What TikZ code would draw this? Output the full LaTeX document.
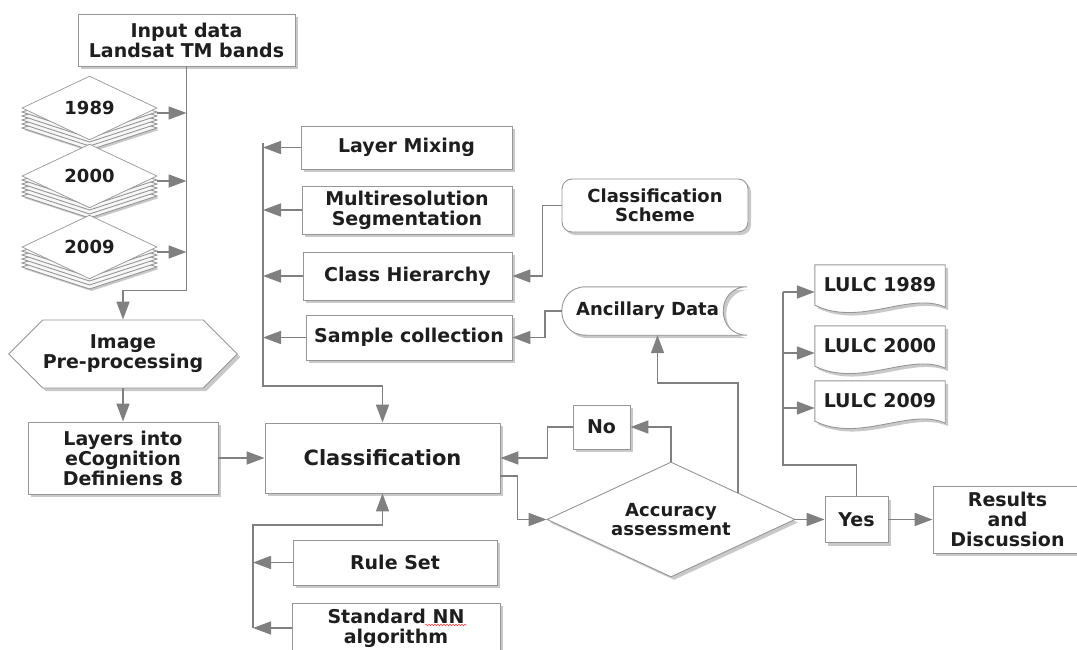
\documentclass[tikz,border=0pt]{standalone}
\usepackage{fontspec}
\setmainfont{DejaVu Sans}
\usetikzlibrary{arrows.meta, positioning, calc, shapes.geometric, shapes.symbols, shadows, backgrounds, decorations.pathmorphing}
\definecolor{linegray}{RGB}{128,128,128}
\definecolor{boxgray}{RGB}{150,150,150}
\definecolor{txtblack}{RGB}{30,30,30}

\tikzset{
  txt/.style={text=txtblack, align=center, inner sep=0pt, font=\fontsize{19}{20}\selectfont\bfseries},
  smalltxt/.style={font=\fontsize{18}{19}\selectfont\bfseries},
  box/.style={txt, draw=boxgray, fill=white, line width=0.9pt,
    drop shadow={shadow xshift=3pt, shadow yshift=-3pt, fill=black!70, opacity=0.3}},
  shp/.style={draw=boxgray, fill=white, line width=0.9pt,
    drop shadow={shadow xshift=3pt, shadow yshift=-3pt, fill=black!70, opacity=0.3}},
  layer/.style={draw=boxgray, fill=gray!6, line width=0.9pt},
  face/.style={txt, smalltxt, diamond, draw=boxgray, fill=white, line width=0.7pt, minimum width=135pt, minimum height=44pt},
  hexa/.style={box, signal, signal to=west and east, signal pointer angle=90},
  doc/.style={txt, minimum width=130pt, minimum height=40pt},
  line/.style={draw=linegray, line width=1.7pt},
  arr/.style={line, -{Triangle[length=18pt, width=13pt]}},
}

\begin{document}
\begin{tikzpicture}[x=1pt, y=-1pt]
    \useasboundingbox (0,0) rectangle (1077,650);
    \clip (0,0) rectangle (1077,650);

    % input data and image stacks
    \node[box, minimum width=217pt, minimum height=52pt] (inp) at (186.5,40) {Input data\\Landsat TM bands};
    \foreach \n/\yy/\lab in {s89/108/1989, s00/176/2000, s09/247/2009} {
        \draw[layer, drop shadow={shadow xshift=2pt, shadow yshift=-2pt, fill=black!70, opacity=0.3}]
            (22,{\yy+20}) -- (89.5,{\yy-2}) -- (157,{\yy+20}) -- (89.5,{\yy+42}) -- cycle;
        \foreach \d in {16,12,8,4}
            \draw[layer] (22,{\yy+\d}) -- (89.5,{\yy-22+\d}) -- (157,{\yy+\d}) -- (89.5,{\yy+22+\d}) -- cycle;
        \node[face] (\n) at (89.5,\yy) {\lab};
        \coordinate (a\n) at ($(\n.east)+(0,5)$);
    }

    % pre-processing
    \node[hexa, minimum width=222pt, minimum height=68pt] (pre) at (123,354) {Image\\Pre-processing};
    \node[box, minimum width=190pt, minimum height=72pt] (lay) at (123,458) {Layers into\\eCognition\\Definiens 8};
    \node[box, font=\fontsize{21}{22}\selectfont\bfseries, minimum width=235pt, minimum height=70pt] (cls) at (382.5,458) {Classification};

    % modules
    \node[box, minimum width=211pt, minimum height=43pt] (lmx) at (406.5,147.5) {Layer Mixing};
    \node[box, minimum width=210pt, minimum height=48pt] (mrs) at (407,210) {Multiresolution\\Segmentation};
    \node[box, minimum width=209pt, minimum height=48pt] (chh) at (407.5,276) {Class Hierarchy};
    \node[box, minimum width=206pt, minimum height=45pt] (smp) at (409,337.5) {Sample collection};
    \node[box, smalltxt, rounded corners=10pt, minimum width=186pt, minimum height=53pt] (csc) at (655,205.5) {Classification\\Scheme};
    \node[txt, smalltxt, minimum width=191pt, minimum height=48pt] (anc) at (657.5,311) {\hspace*{-20pt}Ancillary Data};
    \begin{scope}[on background layer]
        \draw[shp] ($(anc.north west)+(24,0)$) -- ($(anc.north east)+(-6,0)$)
            .. controls ($(anc.north east)+(-38,0)$) and ($(anc.south east)+(-38,0)$) .. ($(anc.south east)+(-6,0)$)
            -- ($(anc.south west)+(24,0)$)
            .. controls ($(anc.south west)+(-8,0)$) and ($(anc.north west)+(-8,0)$) .. cycle;
    \end{scope}

    % rule set
    \node[box, minimum width=204pt, minimum height=45pt] (rls) at (395,562.5) {Rule Set};
    \node[box, minimum width=208pt, minimum height=50pt] (snn) at (396,628) {Standard NN\\algorithm};
    \draw[red!80, line width=0.5pt, decorate, decoration={snake, amplitude=0.8pt, segment length=3pt}] (425,625) -- (467,625);

    % assessment
    \node[txt, smalltxt, diamond, draw=boxgray, fill=white, line width=0.9pt, minimum width=248pt, minimum height=115pt, aspect=2.15,
        drop shadow={shadow xshift=3pt, shadow yshift=-3pt, fill=black!70, opacity=0.3}] (acc) at (671,519.5) {Accuracy\\assessment};
    \node[box, minimum width=57pt, minimum height=44pt] (no) at (601.5,427) {No};
    \node[box, minimum width=63pt, minimum height=46pt] (yes) at (856.5,519.5) {Yes};
    \node[box, minimum width=149pt, minimum height=67pt] (res) at (1007.5,519.5) {Results\\and\\Discussion};

    % outputs
    \foreach \n/\yy/\lab in {l89/285/LULC 1989, l00/346/LULC 2000, l09/401/LULC 2009} {
        \node[doc] (\n) at (880,\yy) {\lab};
        \begin{scope}[on background layer]
            \draw[shp] (\n.north west) -- (\n.north east) -- ($(\n.south east)+(0,2)$)
                .. controls ($(\n.south east)+(-35,-14)$) and ($(\n.south west)+(45,22)$) .. (\n.south west) -- cycle;
        \end{scope}
        \coordinate (a\n) at ($(\n.west)+(0,7)$);
    }

    % connectors
    \draw[arr] (inp.south) -- ++(0,224) -| (pre.north);
    \foreach \n in {s89,s00,s09}
        \draw[arr] (a\n) -- (a\n -| inp.south);
    \draw[arr] (pre.south) -- (lay.north);
    \draw[arr] (lay.east) -- (cls.west);

    \coordinate (mbus) at (263,143);
    \draw[arr] (mbus) -- ++(0,243) -| (cls.north);
    \foreach \n in {lmx,mrs,chh,smp}
        \draw[arr] (\n.west) -- (\n.west -| mbus);
    \draw[arr] (csc.west) -- ++(-19,0) |- (chh.east);
    \draw[arr] (anc.west) -- ++(-17,0) |- (smp.east);

    \coordinate (rbus) at (253,628);
    \draw[arr] (rbus) -- ++(0,-103) -| (cls.south);
    \foreach \n in {rls,snn}
        \draw[arr] (\n.west) -- (\n.west -| rbus);

    \draw[arr] ($(cls.east)+(0,18)$) -- ++(17,0) |- (acc.west);
    \draw[arr] (acc.north) |- (no.east);
    \draw[arr] (no.west) -- ++(-25,0) |- (cls.east);
    \coordinate (accne) at ($(acc.north)!0.54!(acc.east)$);
    \draw[arr] (accne) -- ++(0,-110) -| (anc.south);
    \draw[arr] (acc.east) -- (yes.west);
    \draw[arr] (yes.east) -- (res.west);

    \coordinate (lbus) at ($(al89)+(-32,0)$);
    \draw[line] (yes.north) -- ++(0,-31) -| (lbus);
    \foreach \n in {l89,l00,l09}
        \draw[arr] (a\n -| lbus) -- (a\n);
\end{tikzpicture}
\end{document}
